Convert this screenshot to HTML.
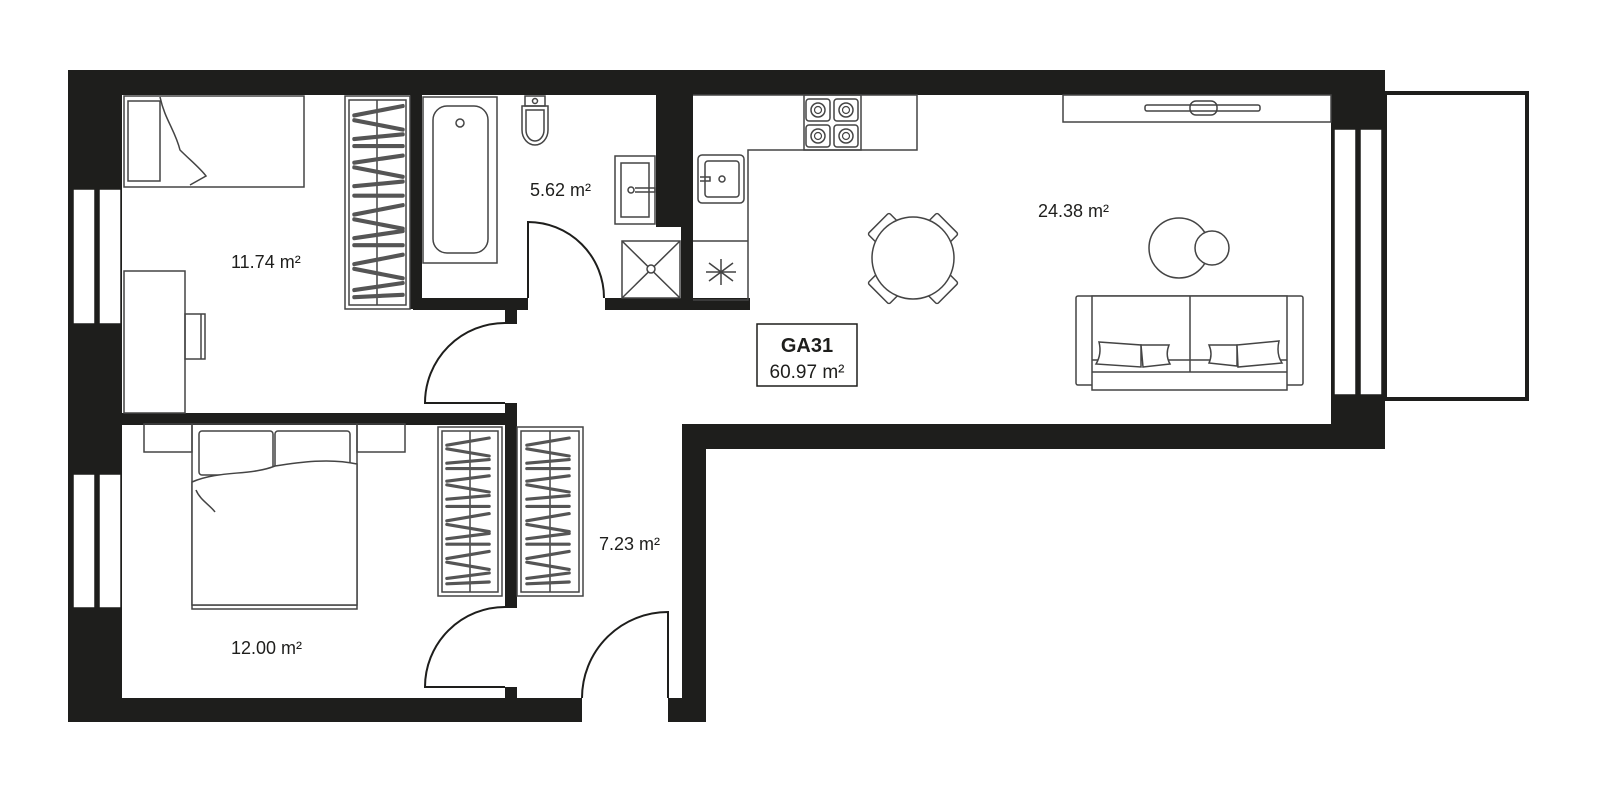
<!DOCTYPE html>
<html><head><meta charset="utf-8"><style>
html,body{margin:0;padding:0;background:#fff;}
svg{display:block}
text{font-family:"Liberation Sans",sans-serif;fill:#1e1e1c}
</style></head><body>
<svg width="1600" height="794" viewBox="0 0 1600 794" xmlns="http://www.w3.org/2000/svg">
<defs>
<g id="bars">
 <line x1="2" y1="8" x2="48" y2="0"/><line x1="2" y1="12" x2="48" y2="20"/>
 <line x1="2" y1="28" x2="48" y2="24"/><line x1="2" y1="34" x2="48" y2="34"/>
 <line x1="2" y1="48" x2="48" y2="42"/><line x1="2" y1="52" x2="48" y2="60"/>
 <line x1="2" y1="68" x2="48" y2="64"/><line x1="2" y1="76" x2="48" y2="76"/>
 <line x1="2" y1="92" x2="48" y2="84"/><line x1="2" y1="96" x2="48" y2="104"/>
 <line x1="2" y1="112" x2="48" y2="106"/><line x1="2" y1="118" x2="48" y2="118"/>
 <line x1="2" y1="134" x2="48" y2="126"/><line x1="2" y1="138" x2="48" y2="146"/>
 <line x1="2" y1="156" x2="48" y2="150"/><line x1="2" y1="162" x2="48" y2="160"/>
</g>
<g id="burner"><rect x="-12" y="-11" width="24" height="22" rx="3" fill="none" stroke="#444" stroke-width="1.5"/><circle r="7" fill="none" stroke="#444" stroke-width="1.5"/><circle r="3.5" fill="none" stroke="#444" stroke-width="1.2"/></g>
<g id="chair"><rect x="-15" y="-8" width="30" height="16" rx="2" fill="#fff" stroke="#444" stroke-width="1.5"/></g>
</defs>

<g fill="#1e1e1c">
 <rect x="68" y="70" width="1317" height="25"/>
 <rect x="68" y="70" width="54" height="652"/>
 <rect x="68" y="698" width="514" height="24"/>
 <rect x="668" y="698" width="38" height="24"/>
 <rect x="682" y="425" width="24" height="297"/>
 <rect x="682" y="424" width="703" height="25"/>
 <rect x="1331" y="70" width="54" height="379"/>
 <rect x="410" y="95" width="12" height="214"/>
 <rect x="413" y="298" width="115" height="12"/>
 <rect x="505" y="298" width="12" height="26"/>
 <rect x="605" y="298" width="145" height="12"/>
 <rect x="656" y="95" width="37" height="132"/>
 <rect x="681" y="226" width="12" height="80"/>
 <rect x="122" y="413" width="395" height="12"/>
 <rect x="505" y="403" width="12" height="205"/>
 <rect x="505" y="687" width="12" height="12"/>
</g>

<g fill="#fff" stroke="#1e1e1c" stroke-width="1.5">
 <rect x="73" y="189" width="22" height="135"/><rect x="99" y="189" width="22" height="135"/>
 <rect x="73" y="474" width="22" height="134"/><rect x="99" y="474" width="22" height="134"/>
 <rect x="1334" y="129" width="22" height="266"/><rect x="1360" y="129" width="22" height="266"/>
</g>
<rect x="1385" y="93" width="142" height="306" fill="none" stroke="#1e1e1c" stroke-width="4"/>

<g fill="none" stroke="#1e1e1c" stroke-width="2">
 <path d="M528 298 L528 222 A76 76 0 0 1 604 298"/>
 <path d="M505 403 L425 403 A80 80 0 0 1 505 323"/>
 <path d="M505 687 L425 687 A80 80 0 0 1 505 607"/>
 <path d="M668 698 L668 612 A86 86 0 0 0 582 698"/>
</g>

<g fill="none" stroke="#444" stroke-width="1.5">
 <rect x="124" y="96" width="180" height="91"/>
 <rect x="128" y="101" width="32" height="80"/>
 <path d="M160 97 C165 120 175 130 180 150 C190 160 200 168 206 176 L190 185"/>
 <rect x="124" y="271" width="61" height="142"/>
 <rect x="185" y="314" width="20" height="45"/><line x1="201" y1="314" x2="201" y2="359"/>
 <rect x="345" y="96" width="65" height="213"/><rect x="349" y="100" width="57" height="205"/>
 <line x1="377" y1="100" x2="377" y2="305"/>
 <rect x="423" y="97" width="74" height="166"/>
 <rect x="433" y="106" width="55" height="147" rx="14"/>
 <circle cx="460" cy="123" r="4"/>
 <rect x="525" y="96" width="20" height="10"/><circle cx="535" cy="101" r="2.5"/>
 <path d="M522 106 L548 106 L548 130 A13 15 0 0 1 522 130 Z"/>
 <path d="M526 110 L544 110 L544 130 A9 11 0 0 1 526 130 Z"/>
 <rect x="615" y="156" width="40" height="68"/><rect x="621" y="163" width="28" height="54"/>
 <circle cx="631" cy="190" r="3"/><path d="M635 188 L655 188 L655 192 L635 192"/>
 <rect x="622" y="241" width="58" height="57"/>
 <line x1="622" y1="241" x2="680" y2="298"/><line x1="680" y1="241" x2="622" y2="298"/>
 <circle cx="651" cy="269" r="4" fill="#fff"/>
 <path d="M693 95 L917 95 L917 150 L748 150 L748 300 L693 300"/>
 <rect x="804" y="95" width="57" height="55"/>
 <line x1="693" y1="241" x2="748" y2="241"/>
 <rect x="698" y="155" width="46" height="48" rx="4"/><rect x="705" y="161" width="34" height="36" rx="3"/>
 <circle cx="722" cy="179" r="3"/><path d="M700 177 L710 177 L710 181 L700 181"/>
 <path d="M709 263 L733 281 M733 263 L709 281 M721 259 L721 285 M706 272 L736 272"/>
 <rect x="1063" y="95" width="268" height="27"/>
 <rect x="1145" y="105" width="115" height="6" rx="2"/>
 <rect x="1190" y="101" width="27" height="14" rx="6"/>
 <circle cx="1179" cy="248" r="30"/>
 <circle cx="1212" cy="248" r="17" fill="#fff"/>
 <rect x="1076" y="296" width="227" height="89" rx="2"/>
 <rect x="1092" y="296" width="195" height="94" fill="#fff"/>
 <line x1="1190" y1="296" x2="1190" y2="372"/>
 <line x1="1092" y1="372" x2="1287" y2="372"/>
 <line x1="1092" y1="360" x2="1287" y2="360"/>
 <path d="M1099 342 L1141 345 L1141 367 L1096 364 Q1102 354 1099 342 Z" fill="#fff"/>
 <path d="M1141 345 L1169 345 Q1165 355 1170 364 L1143 367 Z" fill="#fff"/>
 <path d="M1209 345 L1237 345 L1237 366 L1209 363 Q1213 354 1209 345 Z" fill="#fff"/>
 <path d="M1237 345 L1279 341 Q1276 354 1282 363 L1238 367 Z" fill="#fff"/>
 <rect x="144" y="424" width="48" height="28"/><rect x="357" y="424" width="48" height="28"/>
 <rect x="192" y="424" width="165" height="185"/>
 <line x1="192" y1="605" x2="357" y2="605"/>
 <rect x="199" y="431" width="74" height="44" rx="3"/><rect x="275" y="431" width="75" height="44" rx="3"/>
 <path d="M192 482 C220 470 250 476 275 466 C300 462 330 458 357 464 L357 605 L192 605 Z" fill="#fff"/>
 <path d="M196 490 C200 500 210 505 215 512"/>
 <rect x="438" y="427" width="64" height="169"/><rect x="442" y="431" width="56" height="161"/>
 <line x1="470" y1="431" x2="470" y2="592"/>
 <rect x="517" y="427" width="66" height="169"/><rect x="521" y="431" width="58" height="161"/>
 <line x1="550" y1="431" x2="550" y2="592"/>
</g>

<g stroke="#555" stroke-width="3.5" stroke-linecap="round">
 <use href="#bars" transform="translate(352,106) scale(1.06,1.18)"/>
 <use href="#bars" transform="translate(445,438) scale(0.92,0.9)"/>
 <use href="#bars" transform="translate(525,438) scale(0.92,0.9)"/>
</g>

<use href="#burner" transform="translate(818,110)"/><use href="#burner" transform="translate(846,110)"/>
<use href="#burner" transform="translate(818,136)"/><use href="#burner" transform="translate(846,136)"/>

<use href="#chair" transform="translate(884,229) rotate(-45)"/>
<use href="#chair" transform="translate(942,229) rotate(45)"/>
<use href="#chair" transform="translate(884,288) rotate(45)"/>
<use href="#chair" transform="translate(942,288) rotate(-45)"/>
<circle cx="913" cy="258" r="41" fill="#fff" stroke="#444" stroke-width="1.5"/>

<rect x="757" y="324" width="100" height="62" fill="#fff" stroke="#1e1e1c" stroke-width="1.5"/>
<text x="807" y="352" font-size="20" font-weight="bold" text-anchor="middle">GA31</text>
<text x="807" y="378" font-size="19" text-anchor="middle">60.97 m²</text>

<g font-size="18">
 <text x="231" y="268">11.74 m²</text>
 <text x="530" y="196">5.62 m²</text>
 <text x="1038" y="217">24.38 m²</text>
 <text x="599" y="550">7.23 m²</text>
 <text x="231" y="654">12.00 m²</text>
</g>
</svg>
</body></html>
